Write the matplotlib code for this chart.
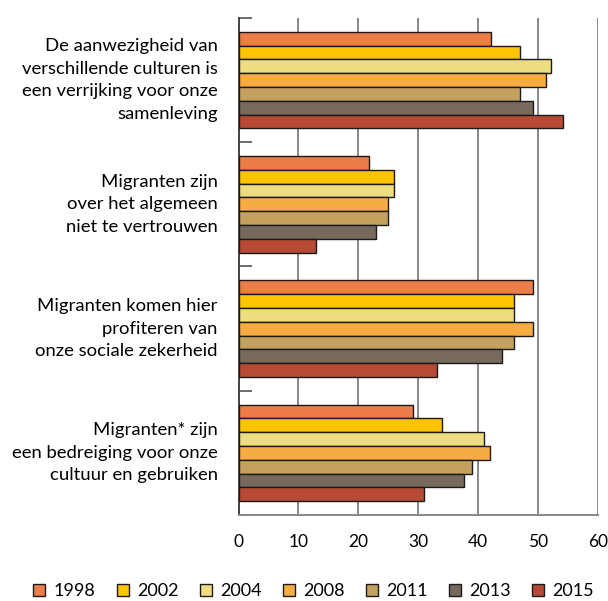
import matplotlib
matplotlib.use("Agg")
import matplotlib.pyplot as plt
import numpy as np

plt.rcParams['font.family'] = ['Lato', 'DejaVu Sans']

statements = [
    "De aanwezigheid van\nverschillende culturen is\neen verrijking voor onze\nsamenleving",
    "Migranten zijn\nover het algemeen\nniet te vertrouwen",
    "Migranten komen hier\nprofiteren van\nonze sociale zekerheid",
    "Migranten* zijn\neen bedreiging voor onze\ncultuur en gebruiken",
]
years = ["1998", "2002", "2004", "2008", "2011", "2013", "2015"]
colors = ["#ED7D47", "#FDC500", "#EEDC80", "#F6AC40", "#C4A25E", "#77695B", "#B84A35"]

# one list per year, values per statement (percent)
v1998 = [42.1, 21.8, 49.2, 29.2]
v2002 = [46.9, 26.0, 46.0, 33.9]
v2004 = [52.2, 26.0, 46.0, 40.9]
v2008 = [51.3, 24.9, 49.2, 42.0]
v2011 = [46.9, 24.9, 46.0, 39.0]
v2013 = [49.2, 23.0, 43.9, 37.7]
v2015 = [54.1, 13.0, 33.1, 31.0]
values = [v1998, v2002, v2004, v2008, v2011, v2013, v2015]

fig = plt.figure(figsize=(6.08, 6.01), dpi=100)
ax = fig.add_axes([0.3923, 0.1431, 0.5913, 0.8270])

y = np.arange(len(statements))
h = 0.111
for i in range(len(years)):
    pos = y - 3.5 * h + (i + 0.5) * h
    ax.barh(pos, values[i], height=h, color=colors[i], edgecolor="#1a1a1a",
            linewidth=1.0, label=years[i], zorder=3)

ax.set_xlim(0, 60)
ax.set_ylim(3.5, -0.5)
ax.set_xticks(range(0, 61, 10))
ax.grid(axis="x", color="#888888", linewidth=1.4, zorder=0)
ax.set_yticks(y)
ax.set_yticklabels(statements, fontsize=13.3, linespacing=1.5)
for lbl in ax.get_yticklabels():
    lbl.set_verticalalignment("center")
ax.tick_params(axis="y", which="major", length=0, pad=15)
ax.set_yticks([-0.5, 0.5, 1.5, 2.5, 3.5], minor=True)
ax.tick_params(axis="y", which="minor", direction="in", length=9, width=1.2, color="#555555")
ax.tick_params(axis="x", length=0, pad=14, labelsize=12.5)

for s in ["top", "right"]:
    ax.spines[s].set_visible(False)
ax.spines["left"].set_color("#444444")
ax.spines["left"].set_linewidth(1.4)
ax.spines["bottom"].set_color("#888888")
ax.spines["bottom"].set_linewidth(1.4)

ax.legend(loc="center", bbox_to_anchor=(0.209, -0.153), ncol=7, frameon=False,
          fontsize=13, handlelength=0.67, handleheight=0.67, handletextpad=0.45,
          columnspacing=1.18, borderaxespad=0, borderpad=0)

fig.savefig("out.png", dpi=100)
